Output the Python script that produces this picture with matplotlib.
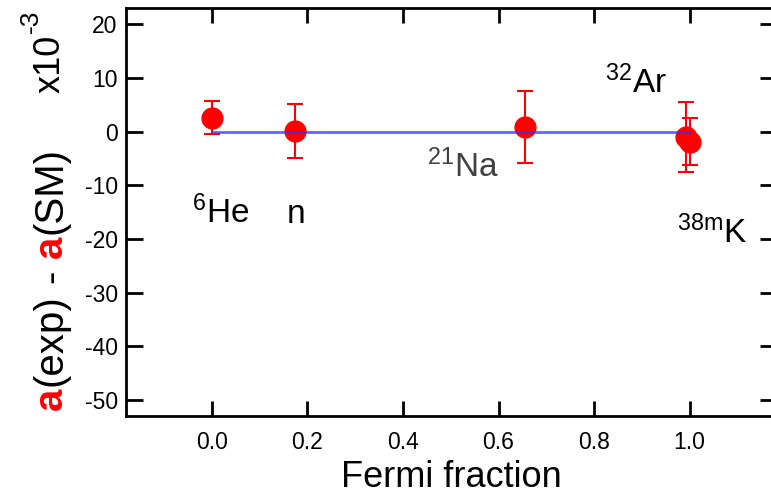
import matplotlib
matplotlib.use("Agg")
import matplotlib.pyplot as plt

plt.rcParams['font.family'] = ['Liberation Sans', 'DejaVu Sans']
plt.rcParams['mathtext.fontset'] = 'custom'
plt.rcParams['mathtext.rm'] = 'Liberation Sans'
plt.rcParams['mathtext.it'] = 'Liberation Sans:italic'
plt.rcParams['mathtext.bf'] = 'Liberation Sans:bold'

# ---- data ----
fermi_fraction = [0.0, 0.174, 0.656, 0.992, 1.0]
delta_a = [2.6, 0.1, 0.9, -1.0, -1.9]
delta_a_err = [3.1, 5.05, 6.7, 6.6, 4.4]
sm_line_x = [0.0, 1.0]
sm_line_y = [0.0, 0.0]

isotope_labels = [r'$^{6}$He', 'n', r'$^{21}$Na', r'$^{32}$Ar', r'$^{38\mathrm{m}}$K']
isotope_label_x = [-0.042, 0.157, 0.450, 0.823, 0.974]
isotope_label_y = [-17.0, -17.0, -8.4, 7.2, -20.7]
isotope_label_colors = ['black', 'black', '#404040', 'black', 'black']

xticks = [0.0, 0.2, 0.4, 0.6, 0.8, 1.0]
yticks = [20, 10, 0, -10, -20, -30, -40, -50]

W, H = 771, 497
fig = plt.figure(figsize=(W / 100, H / 100), dpi=100)
ax = fig.add_axes([126 / W, (H - 416) / H, (777 - 126) / W, (416 - 8) / H])

ax.errorbar(fermi_fraction, delta_a, yerr=delta_a_err, fmt='o', color='#ff0000',
            ecolor='#ff0000', markersize=15, elinewidth=1.5, capsize=6, capthick=1.5,
            zorder=2)
ax.plot(sm_line_x, sm_line_y, color='#3030ff', lw=2, alpha=0.75, zorder=3)

for s, x, y, c in zip(isotope_labels, isotope_label_x, isotope_label_y, isotope_label_colors):
    ax.text(x, y, s, fontsize=24, color=c, ha='left', va='baseline')

ax.set_xlim(-0.18, 1.183)
ax.set_ylim(-52.98, 23.04)
ax.set_xticks(xticks)
ax.set_xticklabels([f'{v:.1f}' for v in xticks])
ax.set_yticks(yticks)
ax.set_yticklabels([str(v) for v in yticks])

for sp in ax.spines.values():
    sp.set_linewidth(2.0)
ax.tick_params(axis='both', direction='in', width=2.0, top=True, right=True,
               labelsize=16.5, colors='black')
ax.tick_params(axis='y', length=12, pad=6)
ax.tick_params(axis='x', length=11, pad=11)

ax.set_xlabel('Fermi fraction', fontsize=26, labelpad=4)

# ---- composite y label ----
fig.canvas.draw()
r = fig.canvas.get_renderer()

def vtext(xpx, ypx, pieces):
    y = ypx
    for s, color, weight, size, gap, dx in pieces:
        t = fig.text((xpx + dx) / W, y / H, s, rotation=90, rotation_mode='anchor',
                     ha='left', va='baseline', color=color, fontweight=weight,
                     fontsize=size)
        bb = t.get_window_extent(renderer=r)
        y += bb.height + gap

vtext(62, H - 410, [
    ('a', '#ff0000', 'bold', 29, 2, 0),
    ('(exp)', 'black', 'normal', 29, 11, 0),
    ('-', 'black', 'normal', 29, 11, 0),
    ('a', '#ff0000', 'bold', 29, 2, 0),
    ('(SM)', 'black', 'normal', 29, 0, 0),
])

vtext(60, H - 93, [
    ('x10', 'black', 'normal', 26, 2, 0),
    ('-3', 'black', 'normal', 19, 0, -22),
])

fig.savefig('out.png', dpi=100)
